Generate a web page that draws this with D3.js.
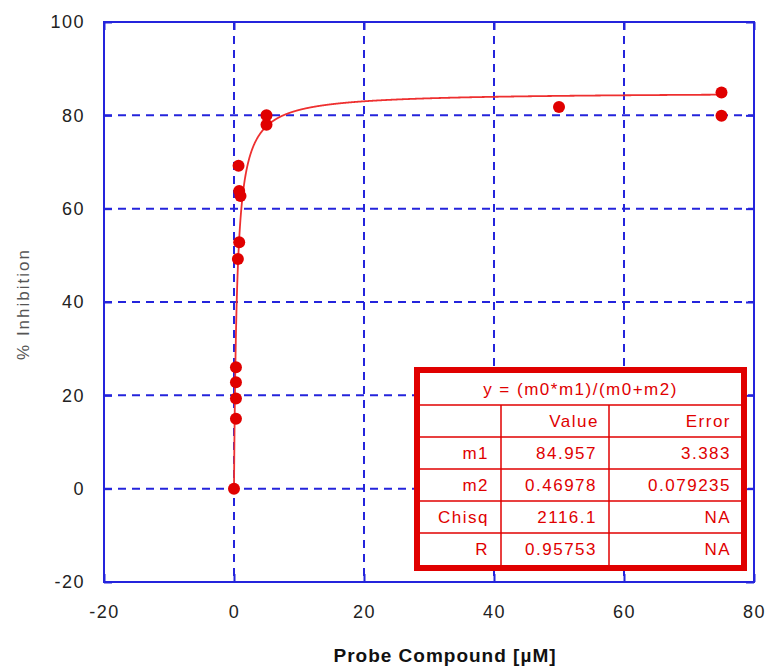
<!DOCTYPE html>
<html>
<head>
<meta charset="utf-8">
<script src="https://cdn.jsdelivr.net/npm/d3@7"></script>
<style>
  body { margin: 0; background: #fff; }
  svg text { font-family: "Liberation Sans", Arial, sans-serif; }
</style>
</head>
<body>
<div id="chart"></div>
<script>
// measured points (concentration in uM, % inhibition)
var concentration = [0, 0.3, 0.3, 0.3, 0.3, 0.6, 0.8, 0.8, 1.0, 0.7, 5, 5, 50, 75, 75];
var inhibition    = [0, 15, 19.3, 22.8, 26, 49.2, 52.8, 63.8, 62.7, 69.2, 78, 80, 81.8, 79.9, 84.9];

var xTicks = [-20, 0, 20, 40, 60, 80];
var yTicks = [-20, 0, 20, 40, 60, 80, 100];

// fit results box
var fitFormula  = "y = (m0*m1)/(m0+m2)";
var tableHeader = ["", "Value", "Error"];
var paramNames  = ["m1", "m2", "Chisq", "R"];
var paramValues = ["84.957", "0.46978", "2116.1", "0.95753"];
var paramErrors = ["3.383", "0.079235", "NA", "NA"];

var blue = "#2424dc", red = "#e00000";

var margin = {top: 22, right: 14, bottom: 88, left: 104},
    width = 768 - margin.left - margin.right,
    height = 670 - margin.top - margin.bottom;

var svg = d3.select("#chart")
  .append("svg")
    .attr("width", 768)
    .attr("height", 670);

var g = svg.append("g")
    .attr("transform", "translate(" + margin.left + "," + margin.top + ")");

var x = d3.scaleLinear().domain([-20, 80]).range([0, width]);
var y = d3.scaleLinear().domain([-20, 100]).range([height, 0]);

// dashed grid
g.append("g").selectAll("line")
  .data(xTicks.slice(1, -1))
  .enter().append("line")
    .attr("x1", function (d) { return x(d); })
    .attr("x2", function (d) { return x(d); })
    .attr("y1", 0).attr("y2", height)
    .attr("stroke", blue).attr("stroke-width", 2)
    .attr("stroke-dasharray", "8,6");
g.append("g").selectAll("line")
  .data(yTicks.slice(1, -1))
  .enter().append("line")
    .attr("y1", function (d) { return y(d); })
    .attr("y2", function (d) { return y(d); })
    .attr("x1", 0).attr("x2", width)
    .attr("stroke", blue).attr("stroke-width", 2)
    .attr("stroke-dasharray", "8,6");

// axes with inward ticks on all four sides
var plain = function (d) { return String(d); };
function styleAxis(sel) {
  sel.selectAll(".domain").remove();
  sel.selectAll(".tick line").attr("stroke", blue).attr("stroke-width", 2);
  sel.selectAll("text")
    .attr("fill", "#222")
    .style("font-size", "18px")
    .style("letter-spacing", "1.5px");
}
g.append("g")
  .attr("transform", "translate(0," + height + ")")
  .call(d3.axisBottom(x).tickValues(xTicks).tickSize(-8).tickPadding(23).tickFormat(plain))
  .call(styleAxis);
g.append("g")
  .call(d3.axisLeft(y).tickValues(yTicks).tickSize(-8).tickPadding(19).tickFormat(plain))
  .call(styleAxis);
g.append("g")
  .call(d3.axisTop(x).tickValues(xTicks).tickSize(-8).tickFormat(""))
  .call(styleAxis);
g.append("g")
  .attr("transform", "translate(" + width + ",0)")
  .call(d3.axisRight(y).tickValues(yTicks).tickSize(-8).tickFormat(""))
  .call(styleAxis);

// frame
g.append("rect")
  .attr("width", width).attr("height", height)
  .attr("fill", "none").attr("stroke", blue).attr("stroke-width", 2);

// fitted curve from the table parameters
var m1 = +paramValues[0], m2 = +paramValues[1];
var curveX = d3.range(0, 75.001, 0.02);
var line = d3.line()
  .x(function (d) { return x(d); })
  .y(function (d) { return y(m1 * d / (d + m2)); });
g.append("path")
  .datum(curveX)
  .attr("d", line)
  .attr("fill", "none")
  .attr("stroke", "#ee3030")
  .attr("stroke-width", 1.8);

// points
g.append("g").selectAll("circle")
  .data(concentration)
  .enter().append("circle")
    .attr("cx", function (d) { return x(d); })
    .attr("cy", function (d, i) { return y(inhibition[i]); })
    .attr("r", 6)
    .attr("fill", red);

// axis titles
svg.append("text")
  .attr("x", 445).attr("y", 662)
  .attr("text-anchor", "middle")
  .style("font-size", "19px").style("font-weight", "bold")
  .style("letter-spacing", "1px")
  .attr("fill", "#111")
  .text("Probe Compound [\u00b5M]");
svg.append("text")
  .attr("transform", "translate(29,304) rotate(-90)")
  .attr("text-anchor", "middle")
  .style("font-size", "17px").style("letter-spacing", "2px")
  .attr("fill", "#555")
  .text("% Inhibition");

// results table
var tb = svg.append("g");
var tLeft = 420, tRight = 741, tTop = 373, rowH = 32;
var colX = [tLeft, 501, 609, tRight];
var tBottom = tTop + rowH * 6;
tb.append("rect")
  .attr("x", tLeft - 3).attr("y", tTop - 3)
  .attr("width", tRight - tLeft + 6).attr("height", tBottom - tTop + 6)
  .attr("fill", "#fff").attr("stroke", red).attr("stroke-width", 6);
d3.range(1, 6).forEach(function (r) {
  tb.append("line")
    .attr("x1", tLeft).attr("x2", tRight)
    .attr("y1", tTop + r * rowH).attr("y2", tTop + r * rowH)
    .attr("stroke", red).attr("stroke-width", 1.5);
});
[colX[1], colX[2]].forEach(function (cx) {
  tb.append("line")
    .attr("x1", cx).attr("x2", cx)
    .attr("y1", tTop + rowH).attr("y2", tBottom)
    .attr("stroke", red).attr("stroke-width", 1.5);
});
function cellText(txt, xr, row, anchor) {
  tb.append("text")
    .attr("x", xr).attr("y", tTop + row * rowH + rowH / 2 + 6)
    .attr("text-anchor", anchor || "end")
    .attr("fill", red)
    .style("font-size", "17px").style("letter-spacing", "1.5px")
    .text(txt);
}
cellText(fitFormula, (tLeft + tRight) / 2, 0, "middle");
tableHeader.forEach(function (t, i) { if (t) cellText(t, colX[i + 1] - 10, 1); });
paramNames.forEach(function (t, i) {
  cellText(t, colX[1] - 12, i + 2);
  cellText(paramValues[i], colX[2] - 12, i + 2);
  cellText(paramErrors[i], colX[3] - 10, i + 2);
});
</script>
</body>
</html>
